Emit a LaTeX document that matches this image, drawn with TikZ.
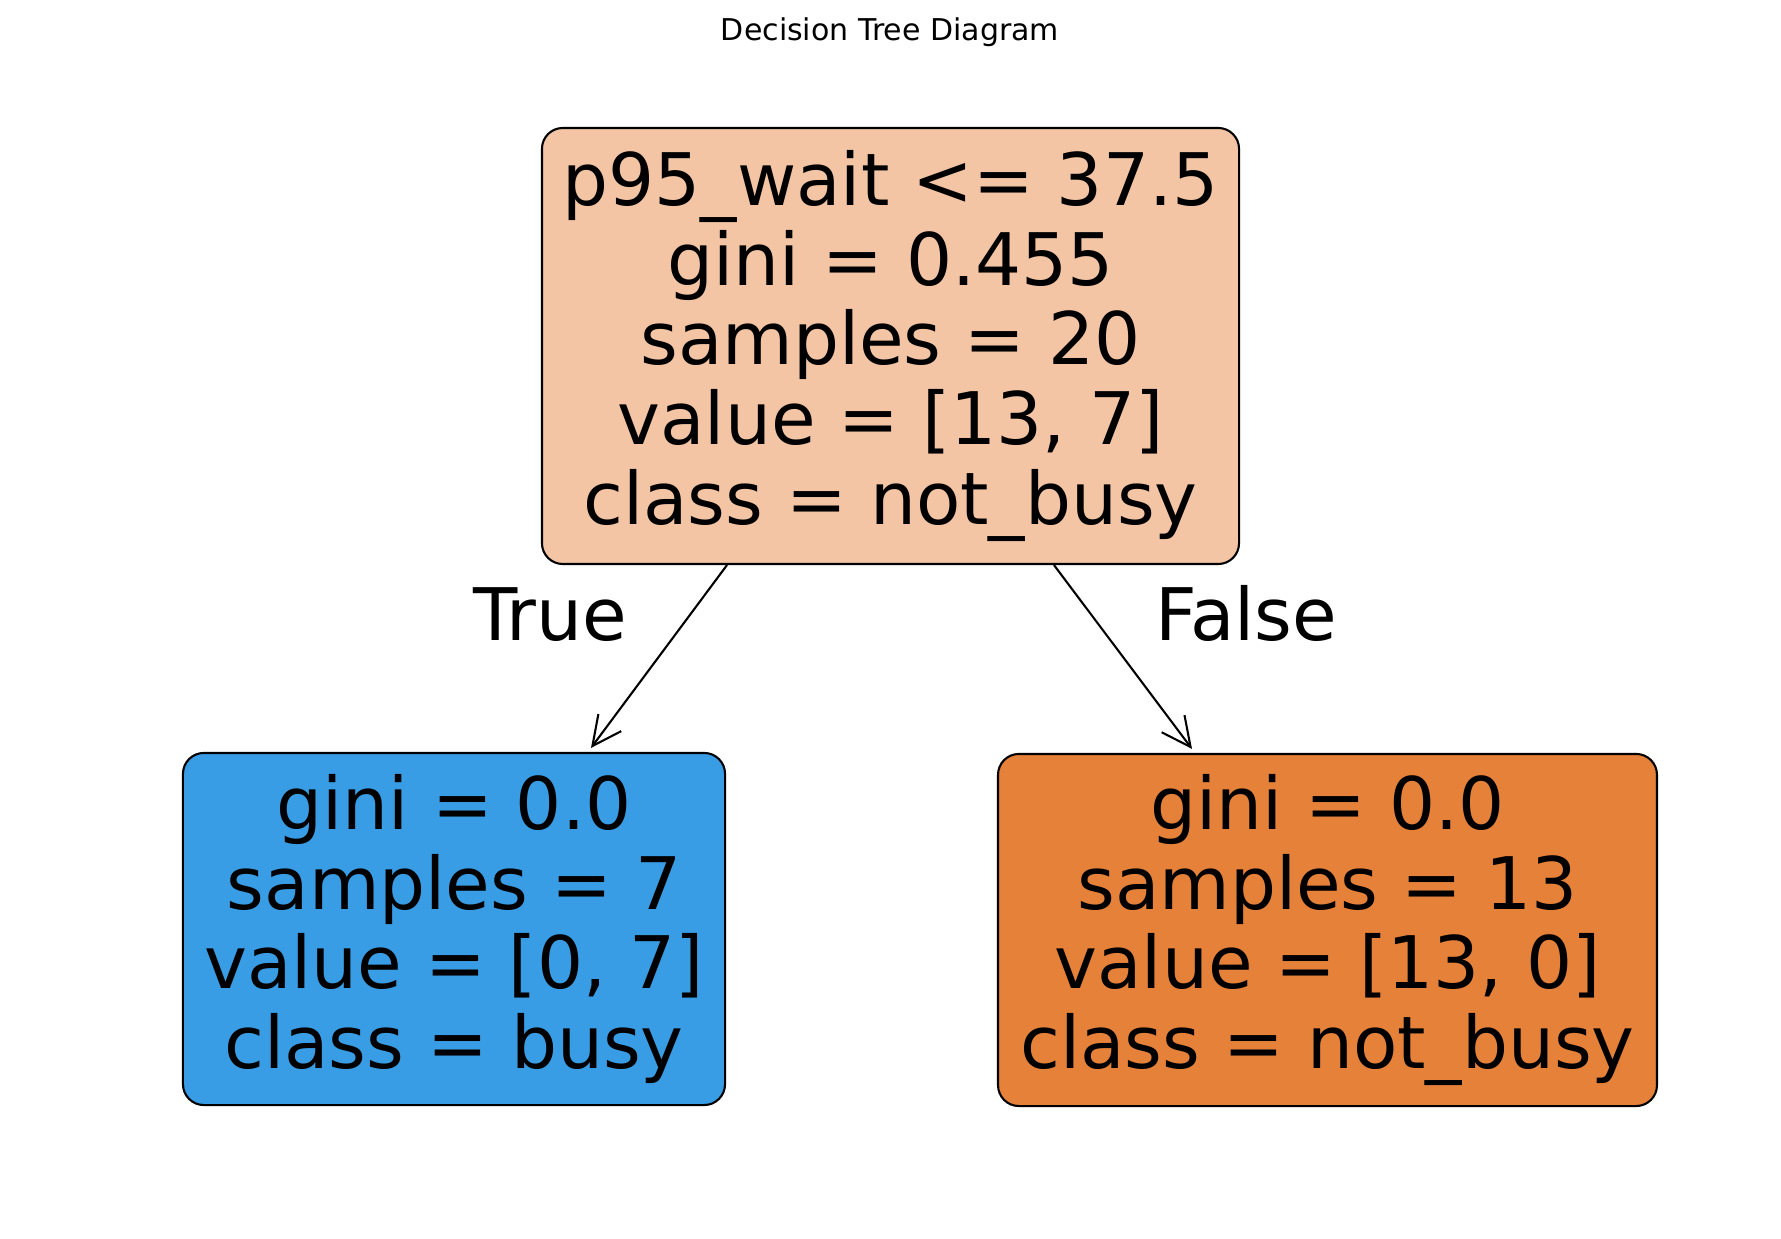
\documentclass[tikz,border=0pt]{standalone}
\usepackage{fontspec}
\setmainfont{DejaVu Sans}
\usepackage{xcolor}
\usepackage{tikz}
\usetikzlibrary{arrows.meta, calc}
\definecolor{tree-root}{RGB}{243, 197, 164}
\definecolor{tree-busy}{RGB}{57, 157, 229}
\definecolor{tree-notbusy}{RGB}{229, 129, 57}

\begin{document}
\begin{tikzpicture}[
  x=0.48pt, y=-0.48pt,
  box/.style={rectangle, draw, line width=1pt, rounded corners=10pt, inner sep=0pt, align=center,
    font=\fontsize{34.8}{38.2}\selectfont},
  edgelabel/.style={anchor=base, inner sep=0pt, font=\fontsize{34.8}{38.2}\selectfont},
  arrow/.style={-{Straight Barb[length=14pt, width=13.7pt]}, line width=1pt}
]
  \useasboundingbox (0,0) rectangle (1781,1239);
  \node[anchor=base, inner sep=0pt, font=\fontsize{14.4}{17}\selectfont] (title) at (890,41) {Decision Tree Diagram};

  \node[box, fill=tree-root, minimum width=334.6pt, minimum height=209.3pt] (root) at (890.5,346)
    {p95\_wait <= 37.5\\gini = 0.455\\samples = 20\\value = [13, 7]\\class = not\_busy};
  \node[box, fill=tree-busy, minimum width=260.2pt, minimum height=169pt] (busy) at (454,929)
    {gini = 0.0\\samples = 7\\value = [0, 7]\\class = busy};
  \node[box, fill=tree-notbusy, minimum width=316.3pt, minimum height=169pt] (notbusy) at (1327.5,930)
    {gini = 0.0\\samples = 13\\value = [13, 0]\\class = not\_busy};

  \draw[arrow] ($(root.south)+(-163.5,0)$) -- ($(busy.north)+(137,-4)$);
  \draw[arrow] ($(root.south)+(163.5,0)$) -- ($(notbusy.north)+(-135.5,-4)$);

  \node[edgelabel] (truelabel) at (550,640) {True};
  \node[edgelabel] (falselabel) at (1246,640) {False};
\end{tikzpicture}
\end{document}
